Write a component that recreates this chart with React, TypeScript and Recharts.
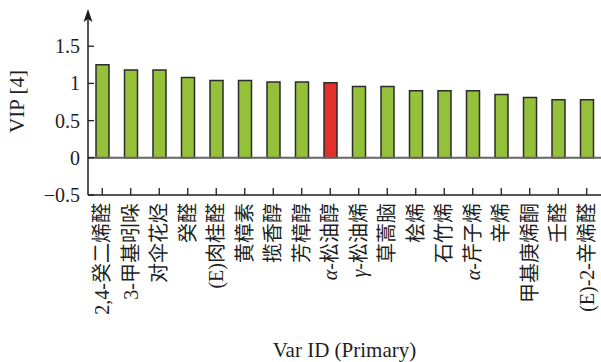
import React from 'react';
import { BarChart, Bar, XAxis, YAxis, Cell, ReferenceLine, Label } from 'recharts';

// compounds ordered by VIP
const compounds = [
  '2,4-癸二烯醛',
  '3-甲基吲哚',
  '对伞花烃',
  '癸醛',
  '(E)肉桂醛',
  '黄樟素',
  '揽香醇',
  '芳樟醇',
  'α-松油醇',
  'γ-松油烯',
  '草蒿脑',
  '桧烯',
  '石竹烯',
  'α-芹子烯',
  '辛烯',
  '甲基庚烯酮',
  '壬醛',
  '(E)-2-辛烯醛',
];
const vipValues = [1.25, 1.18, 1.18, 1.08, 1.04, 1.04, 1.02, 1.02, 1.01, 0.96, 0.96, 0.9, 0.9, 0.9, 0.85, 0.81, 0.78, 0.78];
const highlighted = 'α-松油醇';
const yTicks = [-0.5, 0, 0.5, 1, 1.5];

const data = compounds.map((name, i) => ({ name, vip: vipValues[i] }));

const FONT = '"Liberation Serif", "Noto Sans CJK SC", serif';
const GREEN = '#95c03a';
const RED = '#e2302b';
const INK = '#1e1e1e';

const fmtY = (v: number) => (v < 0 ? '\u2212' + Math.abs(v) : String(v));

const YTick = (props: any) => {
  const { x, y, payload } = props;
  return (
    <g>
      <line x1={x + 8} x2={x + 14} y1={y} y2={y} stroke={INK} strokeWidth={1.3} />
      <text x={x} y={y} textAnchor="end" dominantBaseline="central" fontFamily={FONT} fontSize={20} fill={INK}>
        {fmtY(payload.value)}
      </text>
    </g>
  );
};

const XTick = (props: any) => {
  const { x, y, payload } = props;
  const label: string = payload.value;
  const greek = /^[αγ]/.test(label);
  return (
    <g>
      <line x1={x} x2={x} y1={y - 8} y2={y - 15} stroke={INK} strokeWidth={1.3} />
      <text
        x={x}
        y={y}
        transform={`rotate(-90, ${x}, ${y})`}
        textAnchor="end"
        dominantBaseline="central"
        fontFamily={FONT}
        fontSize={20}
        fill={INK}
      >
        {greek ? (
          <>
            <tspan fontStyle="italic">{label[0]}</tspan>
            {label.slice(1)}
          </>
        ) : (
          label
        )}
      </text>
    </g>
  );
};

export default function App() {
  return (
    <div style={{ position: 'absolute', left: 0, top: 0, width: 601, height: 362, background: '#fff' }}>
      <BarChart width={601} height={362} data={data} margin={{ top: 12, right: 0, bottom: 0, left: 0 }}>
        <XAxis
          dataKey="name"
          interval={0}
          height={167}
          tickSize={0}
          tickMargin={8}
          tick={<XTick />}
          axisLine={{ stroke: INK, strokeWidth: 1.5 }}
        >
          <Label
            content={(p: any) => {
              const vb = p.viewBox;
              return (
                <text
                  x={vb.x + vb.width / 2}
                  y={vb.y + vb.height - 5}
                  textAnchor="middle"
                  fontFamily={FONT}
                  fontSize={21}
                  fill={INK}
                >
                  Var ID (Primary)
                </text>
              );
            }}
          />
        </XAxis>
        <YAxis
          type="number"
          width={88}
          domain={[-0.5, 1.96]}
          allowDataOverflow
          ticks={yTicks}
          interval={0}
          tickSize={0}
          tickMargin={8}
          tick={<YTick />}
          axisLine={{ stroke: INK, strokeWidth: 1.5 }}
        >
          <Label
            content={(p: any) => {
              const vb = p.viewBox;
              const cx = vb.x + 17;
              const cy = vb.y + vb.height / 2 - 2;
              return (
                <text
                  x={cx}
                  y={cy}
                  transform={`rotate(-90, ${cx}, ${cy})`}
                  textAnchor="middle"
                  dominantBaseline="central"
                  fontFamily={FONT}
                  fontSize={21}
                  fill={INK}
                >
                  VIP [4]
                </text>
              );
            }}
          />
        </YAxis>
        <Bar dataKey="vip" barSize={13} stroke="#2b2b2b" strokeWidth={1.5} isAnimationActive={false}>
          {data.map((d) => (
            <Cell key={d.name} fill={d.name === highlighted ? RED : GREEN} />
          ))}
        </Bar>
        <ReferenceLine y={0} stroke="#666" strokeWidth={2} />
      </BarChart>
      <svg width={601} height={362} style={{ position: 'absolute', left: 0, top: 0, pointerEvents: 'none' }}>
        <path d="M88 9 L92.5 22 L88 19 L83.5 22 Z" fill={INK} />
      </svg>
    </div>
  );
}
